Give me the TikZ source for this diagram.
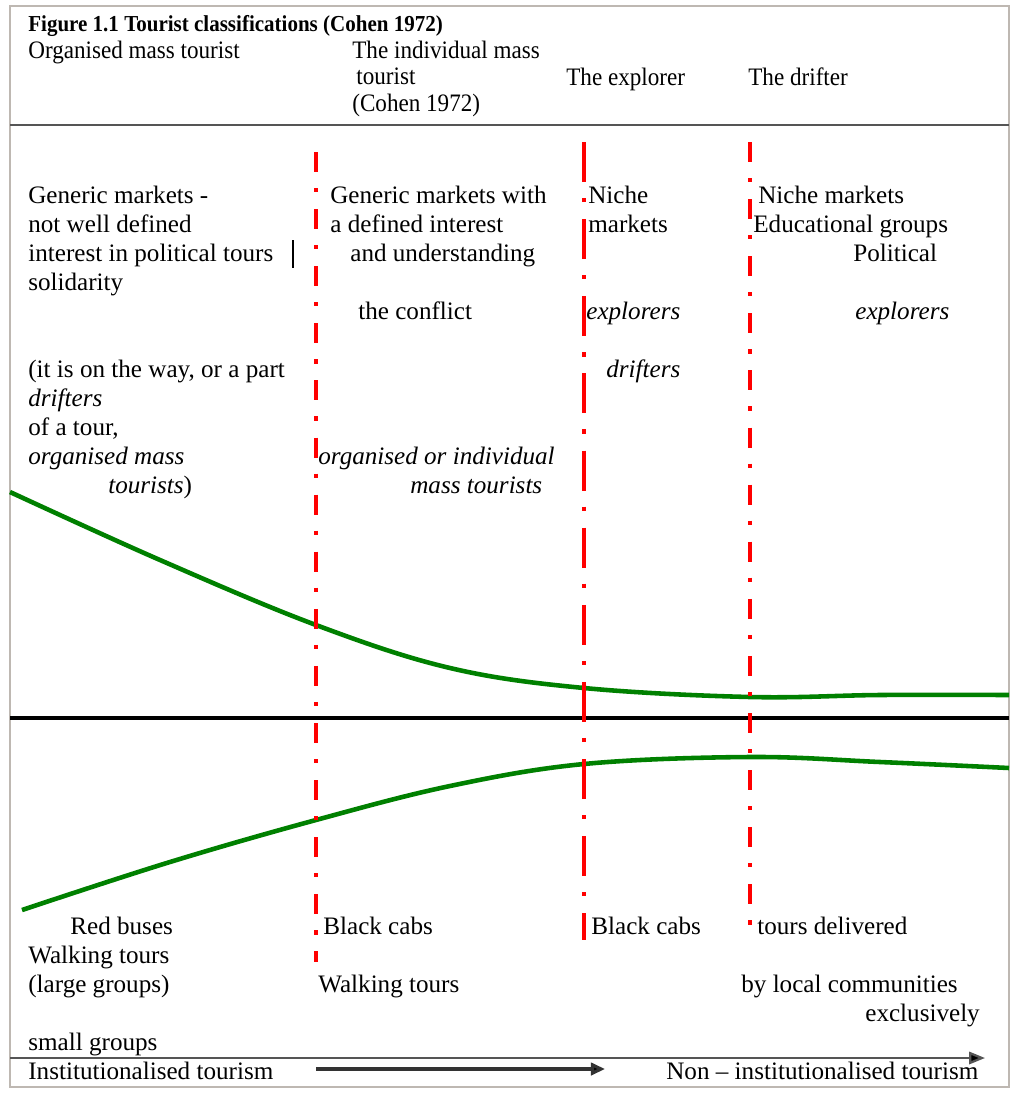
\documentclass[tikz,border=0pt]{standalone}
\usepackage{fontspec}
\usepackage{xcolor}
\setmainfont{Liberation Serif}
\newfontfamily\headfont[FakeStretch=0.92]{Liberation Serif}
\usetikzlibrary{arrows.meta}
\definecolor{framegray}{RGB}{190,184,178}
\definecolor{rulegray}{RGB}{85,85,85}
\newlength\pxu
\setlength\pxu{0.5691pt}

\begin{document}
\begin{tikzpicture}[x=0.02cm, y=-0.02cm,
    txt/.style={anchor=base west, inner sep=0pt, align=left, font=\fontsize{14.3}{16.5}\selectfont},
    head/.style={anchor=base west, inner sep=0pt, align=left, font=\headfont\fontsize{14.3}{15}\selectfont},
    longdash/.style={red, line width=2.4pt, dash pattern=on 22.8pt off 9.1pt on 2.4pt off 9.6pt},
    shortdash/.style={red, line width=2.4pt, dash pattern=on 11.4pt off 9.1pt on 2.4pt off 9.6pt},
    trend/.style={green!50!black, line width=2.6pt}]
        \useasboundingbox (0,0) rectangle (1013,1093);
        \draw[framegray, line width=1.2pt] (10,6) rectangle (1009,1087);

        \node[head, font=\headfont\bfseries\fontsize{13}{14}\selectfont] (title) at (28,31) {Figure 1.1 Tourist classifications (Cohen 1972)};
        \node[head] (hOrg) at (28,58) {Organised mass tourist};
        \node[head] (hInd) at (352,111) {The individual mass\\\hspace*{4\pxu}tourist\\(Cohen 1972)};
        \node[head] (hExp) at (566,85) {The explorer};
        \node[head] (hDri) at (748,85) {The drifter};
        \draw[rulegray, line width=1.2pt] (10,125) -- (1009,125);

        \draw[trend] plot[smooth, tension=0.6] coordinates {(10,492) (160,560) (316,625) (450,668) (584,688) (750,697) (880,695) (1009,695)};
        \draw[trend] plot[smooth, tension=0.6] coordinates {(22,910) (170,862) (316,820) (450,786) (584,764) (750,757) (880,762) (1009,768)};
        \draw[black, line width=2.3pt] (10,718) -- (1009,718);

        \draw[shortdash] (316,152) -- (316,962);
        \draw[longdash] (584,142) -- (584,940);
        \draw[shortdash] (750,142) -- (750,940);

        \node[txt] (gen1) at (28,290) {Generic markets -\\not well defined\\interest in political tours\\solidarity};
        \draw[black, line width=0.9pt] (293,240) -- (293,268);
        \node[txt] (way1) at (28,493) {(it is on the way, or a part\\\textit{drifters}\\of a tour,\\\textit{organised mass}\\\hspace*{80\pxu}\textit{tourists})};

        \node[txt] (gen2) at (330,261) {Generic markets with\\a defined interest\\\hspace*{20\pxu}and understanding};
        \node[txt] (conf2) at (358,319) {the conflict};
        \node[txt] (org2) at (318,493) {\textit{organised or individual}\\\hspace*{92\pxu}\textit{mass tourists}};

        \node[txt] (niche3) at (588,232) {Niche\\markets};
        \node[txt] (exp3) at (586,319) {\textit{explorers}};
        \node[txt] (dri3) at (606,377) {\textit{drifters}};

        \node[txt] (niche4) at (753,261) {\hspace*{5\pxu}Niche markets\\Educational groups\\\hspace*{100\pxu}Political};
        \node[txt] (exp4) at (855,319) {\textit{explorers}};

        \node[txt] (bus1) at (28,992) {\hspace*{42\pxu}Red buses\\Walking tours\\(large groups)};
        \node[txt] (cab2) at (323,934) {Black cabs};
        \node[txt] (walk2) at (318,992) {Walking tours};
        \node[txt] (cab3) at (591,934) {Black cabs};
        \node[txt] (tours4) at (757,934) {tours delivered};
        \node[txt] (local4) at (741,992) {by local communities};
        \node[txt] (excl4) at (865,1021) {exclusively};
        \node[txt] (small) at (28,1050) {small groups};
        \node[txt] (inst) at (28,1079) {Institutionalised tourism};
        \node[txt] (noninst) at (666,1079) {Non -- institutionalised tourism};

        \coordinate (s0) at (10,1058);
        \coordinate (s1) at (985,1058);
        \coordinate (m0) at (316,1069);
        \coordinate (m1) at (605,1069);
        \draw[rulegray, line width=1.3pt, -{Triangle[length=9pt, width=7pt, fill=black]}] (s0) -- (s1);
        \draw[black!80, line width=1.8pt, -{Triangle[length=8pt, width=7pt, fill=black]}] (m0) -- (m1);
    \end{tikzpicture}
\end{document}
